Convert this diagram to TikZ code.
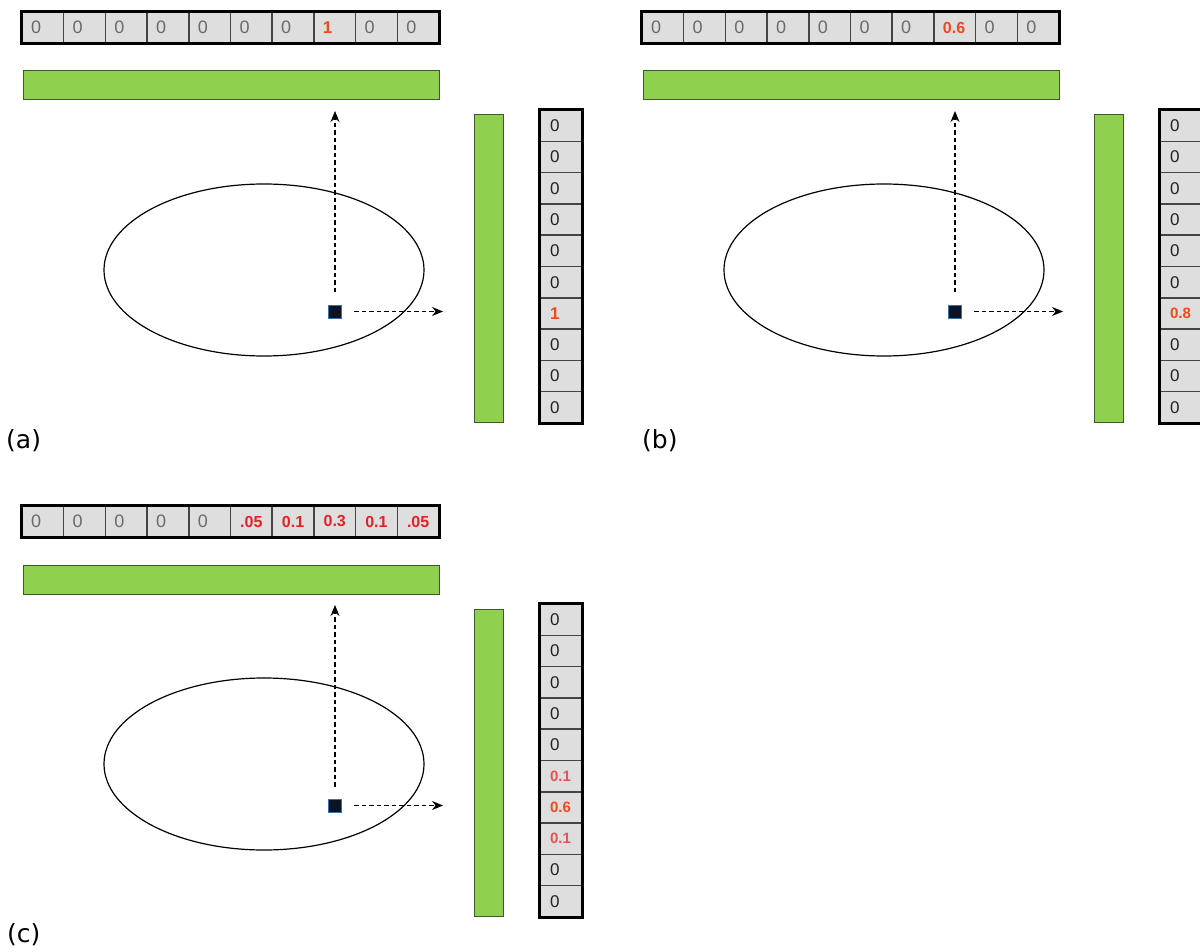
\documentclass[tikz,border=0pt]{standalone}
\usepackage{fontspec}
\setmainfont{Liberation Sans}
\newfontfamily\labelfont{DejaVu Sans}
\usetikzlibrary{arrows.meta,shapes.geometric}

\definecolor{cellgray}{HTML}{DEDEDE}
\definecolor{cellline}{HTML}{444444}
\definecolor{zerorow}{HTML}{6A6A6A}
\definecolor{zerocol}{HTML}{222222}
\definecolor{hotred}{HTML}{EE4A1E}
\definecolor{redval}{HTML}{E42128}
\definecolor{lightred}{HTML}{E65258}
\definecolor{barfill}{HTML}{8FD14F}
\definecolor{barline}{HTML}{3E5A2C}
\definecolor{sqfill}{HTML}{0B1424}
\definecolor{sqline}{HTML}{3F6FA8}

\tikzset{
  rowcell/.style={draw=cellline, line width=1.5pt, fill=cellgray,
    minimum width=41.7pt, minimum height=31pt, inner ysep=0pt,
    inner xsep=9pt, text width=23.7pt, align=left, anchor=center},
  colcell/.style={draw=cellline, line width=1.5pt, fill=cellgray,
    minimum width=42pt, minimum height=31.3pt, inner ysep=0pt,
    inner xsep=10pt, text width=22pt, align=left, anchor=center},
  rowzero/.style={text=zerorow, font=\fontsize{18}{19}\selectfont},
  rowhot/.style={text=hotred, font=\fontsize{17}{19}\selectfont\bfseries},
  rowsoft/.style={text=hotred, font=\fontsize{16}{18}\selectfont\bfseries},
  rowred/.style={text=redval, font=\fontsize{16}{18}\selectfont\bfseries,
    inner xsep=2pt, text width=37.7pt, align=center},
  colzero/.style={text=zerocol, font=\fontsize{17}{18}\selectfont},
  colhot/.style={text=hotred, font=\fontsize{17}{18}\selectfont\bfseries},
  colsoft/.style={text=hotred, font=\fontsize{15}{16}\selectfont\bfseries},
  colmid/.style={text=hotred, font=\fontsize{15}{16}\selectfont\bfseries},
  collight/.style={text=lightred, font=\fontsize{15}{16}\selectfont\bfseries},
  outerframe/.style={draw=black, line width=3pt},
  greenbar/.style={draw=barline, line width=1pt, fill=barfill, inner sep=0pt},
  blob/.style={ellipse, draw=black, line width=1.2pt, minimum width=320pt,
    minimum height=172pt, inner sep=0pt},
  pixel/.style={rectangle, fill=sqfill, draw=sqline, line width=0.8pt,
    minimum size=13pt, inner sep=0pt},
  dasharrow/.style={draw=black, line width=1.1pt, dash pattern=on 4.5pt off 3pt,
    -{Stealth[length=11pt,width=9pt]}},
  panellabel/.style={anchor=west, inner sep=0pt,
    font=\labelfont\fontsize{25}{28}\selectfont},
}

% #1 tag, #2 x shift, #3 y shift, #4 row cells, #5 column cells, #6 label, #7 label x
\newcommand\rfpanel[7]{%
  \begin{scope}[shift={(#2,#3)}]
    % horizontal readout row
    \foreach \s/\t [count=\i] in {#4}
      \node[rowcell,\s] (#1r\i) at ({22+(\i-0.5)*41.7},27.5) {\t};
    \draw[outerframe] (#1r1.north west) rectangle (#1r10.south east);
    % vertical readout column
    \foreach \s/\t [count=\i] in {#5}
      \node[colcell,\s] (#1c\i) at (561,{110+(\i-0.5)*31.3}) {\t};
    \draw[outerframe] (#1c1.north west) rectangle (#1c10.south east);
    % sensor bars
    \node[greenbar, minimum width=416pt, minimum height=29pt] (#1hbar) at (231,85.5) {};
    \node[greenbar, minimum width=29pt, minimum height=307pt] (#1vbar) at (488.5,268.5) {};
    % object and point source
    \node[blob] (#1blob) at (264,270) {};
    \node[pixel] (#1sq) at (335,311.5) {};
    \coordinate (#1up) at (335,111);
    \coordinate (#1rt) at (443,312);
    \draw[dasharrow, shorten <=19pt] (#1sq.center) -- (#1up);
    \draw[dasharrow, shorten <=19pt] (#1sq.center) -- (#1rt |- #1sq.center);
    \node[panellabel] (#1lab) at (#7,441) {#6};
  \end{scope}}

\begin{document}
\begin{tikzpicture}[x=1pt,y=-1pt]
  \useasboundingbox (0,0) rectangle (1200,952);
  \rfpanel{a}{0}{0}
    {rowzero/0,rowzero/0,rowzero/0,rowzero/0,rowzero/0,rowzero/0,rowzero/0,rowhot/1,rowzero/0,rowzero/0}
    {colzero/0,colzero/0,colzero/0,colzero/0,colzero/0,colzero/0,colhot/1,colzero/0,colzero/0,colzero/0}
    {(a)}{6}
  \rfpanel{b}{620}{0}
    {rowzero/0,rowzero/0,rowzero/0,rowzero/0,rowzero/0,rowzero/0,rowzero/0,rowsoft/0.6,rowzero/0,rowzero/0}
    {colzero/0,colzero/0,colzero/0,colzero/0,colzero/0,colzero/0,colsoft/0.8,colzero/0,colzero/0,colzero/0}
    {(b)}{22}
  \rfpanel{c}{0}{494}
    {rowzero/0,rowzero/0,rowzero/0,rowzero/0,rowzero/0,rowred/.05,rowred/0.1,rowred/0.3,rowred/0.1,rowred/.05}
    {colzero/0,colzero/0,colzero/0,colzero/0,colzero/0,collight/0.1,colmid/0.6,collight/0.1,colzero/0,colzero/0}
    {(c)}{7}
\end{tikzpicture}
\end{document}
